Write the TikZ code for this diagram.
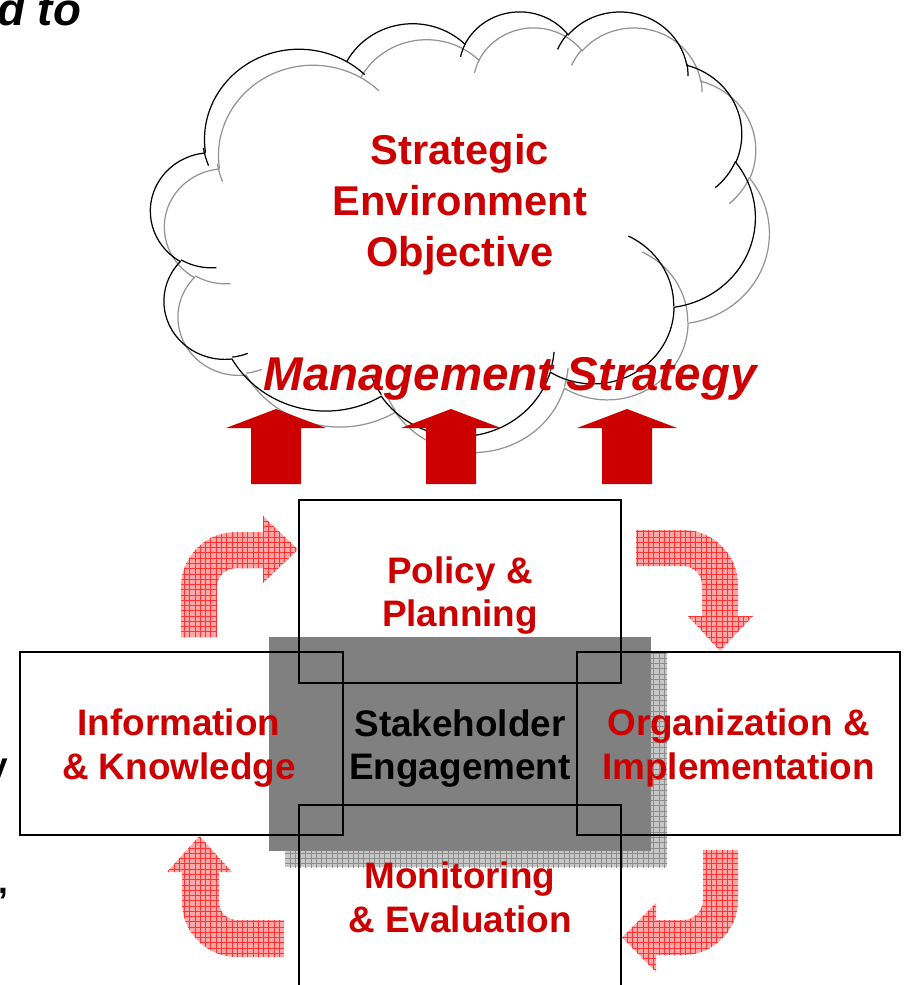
\documentclass[tikz,border=0pt]{standalone}
\usepackage{fontspec}
\setmainfont{Liberation Sans}
\usetikzlibrary{patterns}
\definecolor{ppred}{HTML}{CC0000}
\definecolor{ppgray}{HTML}{808080}
\newcommand\boxfont{\fontsize{21}{25}\selectfont\bfseries}
\tikzset{
    box/.style={draw, line width=1.1pt, minimum width=6.44cm, minimum height=3.66cm, inner sep=0pt},
    boxtext/.style={text=ppred, font=\boxfont, align=center, inner sep=0pt},
    bentarrow/.style={preaction={fill=red!35}, pattern=grid, pattern color=red!80},
    cloudline/.style={line width=0.7pt},
}
% cloud outline and its inner hooks, in a 432 x 432 box
\newcommand\cloudshape[1]{%
    \draw[cloudline, #1] (39,143.7)
        \foreach \rx/\ry/\sa/\sw [evaluate=\sa as \ta using {atan2(\rx*sin(\sa),\ry*cos(\sa))},
            evaluate=\sa as \tb using {atan2(\rx*sin(\sa+\sw),\ry*cos(\sa+\sw))},
            evaluate=\sa as \td using {mod(\tb-\ta+720,360)}]
        in {67.53/91.9/-190.487/123.781, 53.33/72.67/-144.102/89.945, 43.65/59.45/-145.808/99.723,
            48.57/65.95/-130.986/117.242, 53.33/72.73/-78.709/109.027, 67.75/92.2/-46.267/130.269,
            57.85/78.67/0.625/114.033, 67.52/92.15/22.452/115.173, 77.2/105.43/66.243/75.711,
            43.6/59.18/-274.942/146.736, 43.45/59.45/-246.829/152.519}
        {arc[start angle=\ta, delta angle=\td, x radius=\rx, y radius=\ry]} -- cycle;
    \draw[cloudline, #1]
        \foreach \px/\py/\rx/\ry/\sa/\sw [evaluate=\sa as \ta using {atan2(\rx*sin(\sa),\ry*cos(\sa))},
            evaluate=\sa as \tb using {atan2(\rx*sin(\sa+\sw),\ry*cos(\sa+\sw))},
            evaluate=\sa as \td using {mod(\tb-\ta+720,360)}]
        in {46.93/261.77/43.45/59.45/86.742/26.43, 69.28/348.99/43.6/59.18/73.61/11.447,
            164.78/390.9/67.52/92.15/137.624/14.081, 288.27/347.51/67.52/92.15/6.453/15.998,
            341.29/229.54/57.85/78.67/-70.292/70.917, 417.98/153.54/53.33/72.73/30.318/27.752,
            383.24/54.26/48.57/65.95/-13.744/14.859, 290.78/39.52/48.57/65.95/-149.181/18.195,
            221.41/47.2/43.65/59.45/-163.494/17.686, 140/51.92/67.53/91.9/-66.707/12.319,
            41.27/157.89/67.53/91.9/151.845/14.954}
        {(\px,\py) arc[start angle=\ta, delta angle=\td, x radius=\rx, y radius=\ry]};
}

\begin{document}
\begin{tikzpicture}[x=0.02cm, y=-0.02cm]
    \useasboundingbox (0,0) rectangle (904,985);

    % cut-off slide text
    \node[anchor=base west, inner sep=0pt] (frag1) at (-3,25) {\fontsize{26}{30}\selectfont\bfseries\itshape d to};
    \node[anchor=base east, inner sep=0pt] (frag2) at (8,777) {\fontsize{20}{24}\selectfont\bfseries y};
    \node[anchor=base east, inner sep=0pt] (frag3) at (9,893) {\fontsize{20}{24}\selectfont\bfseries ,};

    \begin{scope}[shift={(164.8,26.5)}, x=0.02798cm, y=-0.019652cm]
        \cloudshape{ppgray!85}
    \end{scope}
    \begin{scope}[shift={(150.8,10.5)}, x=0.02798cm, y=-0.019652cm]
        \cloudshape{black}
    \end{scope}

    \foreach \c in {276,451,627}
        \fill[ppred] (\c-25,484) -- (\c-25,428) -- (\c-50,428) -- (\c,409) -- (\c+50,428) -- (\c+25,428) -- (\c+25,484) -- cycle;

    \node[text=ppred, font=\fontsize{23.7}{29}\selectfont\bfseries, align=center] (goal) at (460,204.5) {Strategic\\Environment\\Objective};
    \node[text=ppred, font=\fontsize{27}{32}\selectfont\bfseries\itshape, anchor=base, inner sep=0pt] (strategy) at (510,390) {Management Strategy};

    \fill[bentarrow] (181,637) -- (181,587) arc[start angle=180, end angle=270, radius=55] -- (263,532) -- (263,516) -- (298,549.5) -- (263,583) -- (263,568) -- (236,568) arc[start angle=270, end angle=180, radius=19] -- (217,637) -- cycle;
    \fill[bentarrow] (636,530) -- (683,530) arc[start angle=270, end angle=360, radius=55] -- (738,616) -- (753,616) -- (720,651) -- (688,616) -- (702,616) -- (702,585) arc[start angle=0, end angle=-90, radius=19] -- (636,566) -- cycle;
    \fill[bentarrow] (703,850) -- (738,850) -- (738,900) arc[start angle=0, end angle=90, radius=55] -- (656,955) -- (656,972) -- (622,937.5) -- (656,903) -- (656,920) -- (683,920) arc[start angle=90, end angle=0, radius=20] -- cycle;
    \fill[bentarrow] (199.5,836) -- (232,872) -- (219,872) -- (219,902) arc[start angle=180, end angle=90, radius=18] -- (284,920) -- (284,957) -- (237,957) arc[start angle=90, end angle=180, radius=55] -- (182,872) -- (167,872) -- cycle;

    \fill[preaction={fill=black!22}, pattern=grid, pattern color=black!45] (285,652) rectangle (667,867);
    \node[fill=ppgray, minimum width=7.64cm, minimum height=4.28cm, inner sep=0pt] (stake) at (460,744) {};

    \node[box] (policy) at (460,591.5) {};
    \node[box, minimum width=6.46cm] (info) at (181.5,743.5) {};
    \node[box, minimum width=6.46cm] (orgn) at (738.5,743.5) {};
    \node[box] (monit) at (460,896.5) {};

    \node[boxtext, text=black] (stakelbl) at ([yshift=-2.6pt]stake.center) {Stakeholder\\Engagement};
    \node[boxtext] (policylbl) at ([yshift=-2.3pt]policy.center) {Policy \&\\Planning};
    \node[boxtext] (infolbl) at ([xshift=-1.5pt, yshift=-2.6pt]info.center) {Information\\\& Knowledge};
    \node[boxtext] (orgnlbl) at ([yshift=-2.6pt]orgn.center) {Organization \&\\Implementation};
    \node[boxtext] (monitlbl) at ([yshift=-0.6pt]monit.center) {Monitoring\\\& Evaluation};

\end{tikzpicture}
\end{document}
